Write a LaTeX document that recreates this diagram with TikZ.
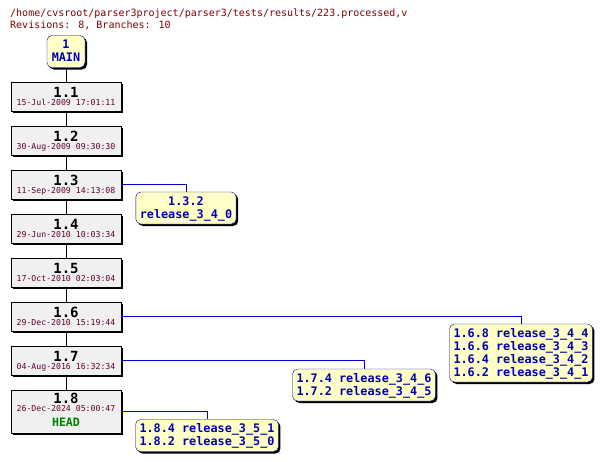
\documentclass[tikz,border=0pt]{standalone}
\usepackage{fontspec}
\usepackage{xcolor}
\usepackage{tikz}
\usetikzlibrary{shadows}
\newfontfamily\monofam{DejaVu Sans Mono}
\newcommand{\titlefont}{\monofam\fontsize{10}{12}\selectfont}
\newcommand{\revfont}{\monofam\bfseries\fontsize{14}{14}\selectfont}
\newcommand{\datefont}{\monofam\fontsize{8.2}{8}\selectfont}
\newcommand{\tagfont}{\monofam\bfseries\fontsize{11.8}{13}\selectfont}
\newcommand{\headfont}{\monofam\bfseries\fontsize{11.6}{13}\selectfont}
\definecolor{titlered}{HTML}{800000}
\definecolor{datered}{HTML}{600030}
\definecolor{revgray}{HTML}{F0F0F0}
\definecolor{tagyellow}{HTML}{FFFFC8}
\definecolor{tagblue}{HTML}{0000B0}
\definecolor{lineblue}{HTML}{0000D0}
\definecolor{headgreen}{HTML}{008000}

\begin{document}
\begin{tikzpicture}[x=1pt,y=-1pt,
  shad/.style={drop shadow={shadow xshift=2pt,shadow yshift=-2pt,fill=black,opacity=1}},
  rev/.style={shad,draw=black,fill=revgray,minimum width=110pt,minimum height=29pt,inner sep=0pt,
    align=center,font=\datefont,text height=19pt,text depth=2pt},
  tag/.style={shad,draw=tagblue,fill=tagyellow,rounded corners=5pt,inner xsep=4pt,inner ysep=4pt,
    align=center,font=\tagfont,text=tagblue,text height=22pt,text depth=2pt},
  trunk/.style={draw=black},
  branchline/.style={draw=lineblue}]
\useasboundingbox (0,0) rectangle (602,461);
\node[anchor=base west,inner sep=0pt,align=left,font=\titlefont,text=titlered] (title) at (10,28)
  {/home/cvsroot/parser3project/parser3/tests/results/223.processed,v\\Revisions: 8, Branches: 10};
% trunk
\node[tag,minimum width=38pt] (main) at (66,51.5) {1\\MAIN};
\node[rev] (r11) at (66,96.5) {{\revfont 1.1}\\{\color{datered}15-Jul-2009 17:01:11}};
\node[rev] (r12) at (66,140.5) {{\revfont 1.2}\\{\color{datered}30-Aug-2009 09:30:30}};
\node[rev] (r13) at (66,184.5) {{\revfont 1.3}\\{\color{datered}11-Sep-2009 14:13:08}};
\node[rev] (r14) at (66,228.5) {{\revfont 1.4}\\{\color{datered}29-Jun-2010 10:03:34}};
\node[rev] (r15) at (66,272.5) {{\revfont 1.5}\\{\color{datered}17-Oct-2010 02:03:04}};
\node[rev] (r16) at (66,316.5) {{\revfont 1.6}\\{\color{datered}29-Dec-2010 15:19:44}};
\node[rev] (r17) at (66,360.5) {{\revfont 1.7}\\{\color{datered}04-Aug-2016 16:32:34}};
\node[rev,minimum height=43pt,text height=32pt] (r18) at (66,411.5)
  {{\revfont 1.8}\\{\color{datered}26-Dec-2024 05:00:47}\\[5pt]{\headfont\color{headgreen}HEAD}};
\draw[trunk] (main) -- (r11) (r11) -- (r12) (r12) -- (r13) (r13) -- (r14)
  (r14) -- (r15) (r15) -- (r16) (r16) -- (r17) (r17) -- (r18);
% branches
\node[tag] (b13) at (186,208) {1.3.2\\release\_3\_4\_0};
\node[tag,text height=48pt] (b16) at (521,353) {1.6.8 release\_3\_4\_4\\1.6.6 release\_3\_4\_3\\1.6.4 release\_3\_4\_2\\1.6.2 release\_3\_4\_1};
\node[tag] (b17) at (364,385) {1.7.4 release\_3\_4\_6\\1.7.2 release\_3\_4\_5};
\node[tag] (b18) at (207,435.5) {1.8.4 release\_3\_5\_1\\1.8.2 release\_3\_5\_0};
\draw[branchline] (r13.east) -| (b13.north);
\draw[branchline] (r16.east) -| (b16.north);
\draw[branchline] (r17.east) -| (b17.north);
\draw[branchline] (r18.east) -| (b18.north);
\end{tikzpicture}
\end{document}
